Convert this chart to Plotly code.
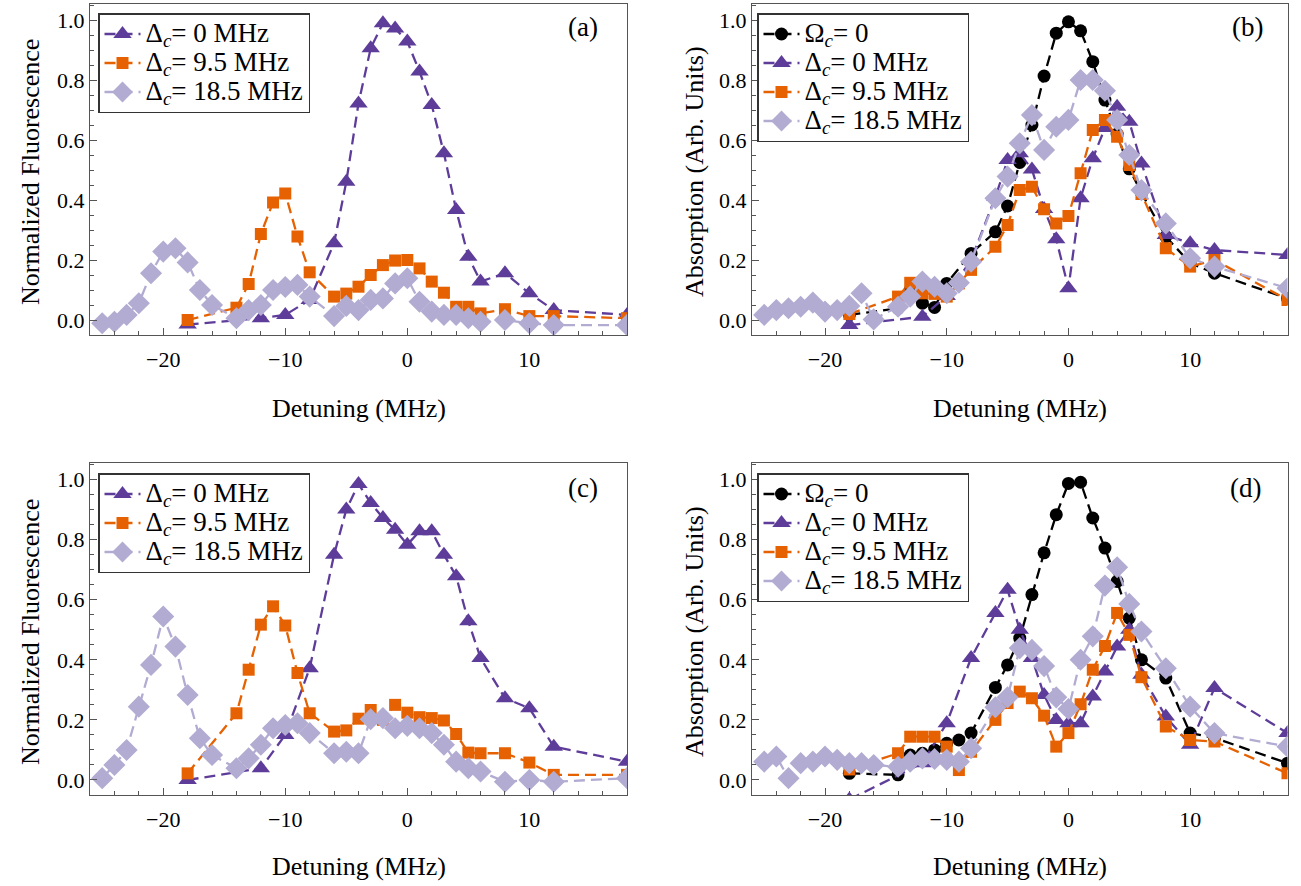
import plotly.graph_objects as go

FONT = "Liberation Serif"
PURPLE = "#5e3c99"
ORANGE = "#e66101"
LAVENDER = "#b2abd2"
BLACK = "#000000"
FRAME = "#555555"

# ---------------- (a) fluorescence ----------------
a_d0_x = [-18, -12, -10, -8, -6, -5, -4, -3, -2, -1, 0, 1, 2, 3, 4, 5, 6, 8, 10, 12, 18]
a_d0_y = [-0.015, 0.006, 0.017, 0.067, 0.256, 0.461, 0.722, 0.906, 0.989, 0.972, 0.928,
          0.828, 0.717, 0.556, 0.367, 0.211, 0.128, 0.156, 0.089, 0.033, 0.017]
a_d95_x = [-18, -14, -13, -12, -11, -10, -9, -8, -6, -5, -4, -3, -2, -1, 0, 1, 2, 3, 4, 5, 6, 8, 10, 12, 18]
a_d95_y = [0.0, 0.041, 0.12, 0.287, 0.392, 0.422, 0.278, 0.159, 0.078, 0.088, 0.111, 0.15, 0.183,
           0.198, 0.2, 0.172, 0.128, 0.091, 0.044, 0.044, 0.022, 0.036, 0.013, 0.013, 0.006]
a_d185_x = [-25, -24, -23, -22, -21, -20, -19, -18, -17, -16, -14, -13, -12, -11, -10, -9, -8,
            -6, -5, -4, -3, -2, -1, 0, 1, 2, 3, 4, 5, 6, 8, 10, 12, 18]
a_d185_y = [-0.011, -0.006, 0.017, 0.056, 0.156, 0.228, 0.239, 0.192, 0.1, 0.05, 0.006, 0.033,
            0.05, 0.1, 0.11, 0.117, 0.078, 0.013, 0.047, 0.033, 0.067, 0.072, 0.122, 0.139,
            0.061, 0.028, 0.017, 0.017, 0.006, -0.006, 0.0, -0.011, -0.017, -0.017]

# ---------------- (b) absorption ----------------
b_om_x = [-18, -14, -13, -12, -11, -10, -8, -6, -5, -4, -3, -2, -1, 0, 1, 2, 3, 4, 5, 6, 8, 10, 12, 18]
b_om_y = [0.017, 0.039, 0.1, 0.056, 0.042, 0.122, 0.222, 0.294, 0.38, 0.525, 0.65, 0.813, 0.956,
          0.994, 0.964, 0.861, 0.733, 0.62, 0.504, 0.424, 0.278, 0.19, 0.156, 0.072]
b_d0_x = [-18, -12, -10, -8, -6, -5, -4, -3, -2, -1, 0, 1, 2, 3, 4, 5, 6, 8, 10, 12, 18]
b_d0_y = [-0.017, 0.011, 0.08, 0.2, 0.41, 0.533, 0.556, 0.502, 0.37, 0.269, 0.106, 0.406, 0.539,
          0.64, 0.711, 0.661, 0.522, 0.283, 0.256, 0.233, 0.217]
b_d95_x = [-18, -14, -13, -12, -11, -10, -9, -8, -6, -5, -4, -3, -2, -1, 0, 1, 2, 3, 4, 5, 6, 8, 10, 12, 18]
b_d95_y = [0.02, 0.078, 0.124, 0.089, 0.087, 0.078, 0.122, 0.167, 0.244, 0.317, 0.433, 0.444,
           0.369, 0.322, 0.347, 0.489, 0.633, 0.667, 0.611, 0.517, 0.42, 0.239, 0.178, 0.2, 0.067]
b_d185_x = [-25, -24, -23, -22, -21, -20, -19, -18, -17, -16, -14, -13, -12, -11, -10, -9, -8,
            -6, -5, -4, -3, -2, -1, 0, 1, 2, 3, 4, 5, 6, 8, 10, 12, 18]
b_d185_y = [0.017, 0.033, 0.039, 0.044, 0.058, 0.028, 0.033, 0.047, 0.089, 0.002, 0.044, 0.078,
            0.128, 0.111, 0.089, 0.124, 0.194, 0.406, 0.478, 0.589, 0.683, 0.567, 0.644, 0.667,
            0.8, 0.8, 0.764, 0.667, 0.55, 0.433, 0.322, 0.206, 0.178, 0.106]

# ---------------- (c) fluorescence ----------------
c_d0_x = [-18, -12, -10, -8, -6, -5, -4, -3, -2, -1, 0, 1, 2, 3, 4, 5, 6, 8, 10, 12, 18]
c_d0_y = [0.0, 0.039, 0.15, 0.372, 0.75, 0.9, 0.985, 0.922, 0.872, 0.833, 0.783, 0.828, 0.828,
          0.75, 0.678, 0.528, 0.406, 0.272, 0.239, 0.111, 0.061]
c_d95_x = [-18, -14, -13, -12, -11, -10, -9, -8, -6, -5, -4, -3, -2, -1, 0, 1, 2, 3, 4, 5, 6, 8, 10, 12, 18]
c_d95_y = [0.022, 0.222, 0.367, 0.517, 0.578, 0.514, 0.356, 0.222, 0.161, 0.165, 0.204, 0.233,
           0.2, 0.25, 0.224, 0.209, 0.206, 0.198, 0.153, 0.091, 0.089, 0.089, 0.058, 0.017, 0.017]
c_d185_x = [-25, -24, -23, -22, -21, -20, -19, -18, -17, -16, -14, -13, -12, -11, -10, -9, -8,
            -6, -5, -4, -3, -2, -1, 0, 1, 2, 3, 4, 5, 6, 8, 10, 12, 18]
c_d185_y = [0.006, 0.05, 0.1, 0.244, 0.383, 0.544, 0.444, 0.283, 0.139, 0.083, 0.039, 0.072,
            0.117, 0.172, 0.183, 0.189, 0.156, 0.089, 0.094, 0.089, 0.202, 0.206, 0.172, 0.18,
            0.172, 0.156, 0.117, 0.061, 0.039, 0.028, -0.006, 0.0, -0.006, 0.006]

# ---------------- (d) absorption ----------------
d_om_x = [-18, -14, -13, -12, -11, -10, -9, -8, -6, -5, -4, -3, -2, -1, 0, 1, 2, 3, 4, 5, 6, 8, 10, 12, 18]
d_om_y = [0.022, 0.017, 0.083, 0.089, 0.1, 0.122, 0.133, 0.156, 0.308, 0.383, 0.472, 0.617, 0.756,
          0.883, 0.987, 0.991, 0.872, 0.772, 0.661, 0.539, 0.4, 0.339, 0.156, 0.14, 0.056]
d_d0_x = [-18, -12, -10, -8, -6, -5, -4, -3, -2, -1, 0, 1, 2, 3, 4, 5, 6, 8, 10, 12, 18]
d_d0_y = [-0.065, 0.056, 0.189, 0.406, 0.556, 0.633, 0.5, 0.406, 0.283, 0.2, 0.189, 0.189, 0.278,
          0.361, 0.444, 0.5, 0.35, 0.211, 0.117, 0.306, 0.156]
d_d95_x = [-18, -14, -13, -12, -11, -10, -9, -8, -6, -5, -4, -3, -2, -1, 0, 1, 2, 3, 4, 5, 6, 8, 10, 12, 18]
d_d95_y = [0.035, 0.089, 0.144, 0.144, 0.144, 0.111, 0.033, 0.094, 0.2, 0.256, 0.294, 0.272,
           0.214, 0.111, 0.156, 0.252, 0.367, 0.446, 0.556, 0.483, 0.342, 0.178, 0.133, 0.128, 0.022]
d_d185_x = [-25, -24, -23, -22, -21, -20, -19, -18, -17, -16, -14, -13, -12, -11, -10, -9, -8,
            -6, -5, -4, -3, -2, -1, 0, 1, 2, 3, 4, 5, 6, 8, 10, 12, 18]
d_d185_y = [0.061, 0.078, 0.006, 0.056, 0.061, 0.078, 0.067, 0.056, 0.056, 0.05, 0.044, 0.061,
            0.072, 0.07, 0.067, 0.061, 0.106, 0.242, 0.275, 0.439, 0.433, 0.379, 0.275, 0.236,
            0.4, 0.478, 0.647, 0.708, 0.586, 0.494, 0.372, 0.244, 0.156, 0.111]

# Legend labels are drawn larger than the legend row pitch to keep the rows tight
LEG_TEXT = '<span style="font-size:27px">{}</span>'
NAME_OM = LEG_TEXT.format("Ω<sub><i>c</i></sub>= 0")
NAME_D0 = LEG_TEXT.format("Δ<sub><i>c</i></sub>= 0 MHz")
NAME_D95 = LEG_TEXT.format("Δ<sub><i>c</i></sub>= 9.5 MHz")
NAME_D185 = LEG_TEXT.format("Δ<sub><i>c</i></sub>= 18.5 MHz")

STYLE = {
    "om": (BLACK, "circle", 13),
    "d0": (PURPLE, "triangle-up", 16),
    "d95": (ORANGE, "square", 12),
    "d185": (LAVENDER, "diamond", 17),
}

fig = go.Figure()


def add(xs, ys, name, key, axis, legend):
    color, symbol, size = STYLE[key]
    fig.add_trace(go.Scatter(
        x=xs, y=ys, name=name, mode="lines+markers",
        line=dict(color=color, width=2.3, dash="11px,6px"),
        marker=dict(color=color, symbol=symbol, size=size, line=dict(width=0)),
        xaxis="x" + axis, yaxis="y" + axis, legend=legend,
    ))


add(a_d0_x, a_d0_y, NAME_D0, "d0", "", "legend")
add(a_d95_x, a_d95_y, NAME_D95, "d95", "", "legend")
add(a_d185_x, a_d185_y, NAME_D185, "d185", "", "legend")

add(b_om_x, b_om_y, NAME_OM, "om", "2", "legend2")
add(b_d0_x, b_d0_y, NAME_D0, "d0", "2", "legend2")
add(b_d95_x, b_d95_y, NAME_D95, "d95", "2", "legend2")
add(b_d185_x, b_d185_y, NAME_D185, "d185", "2", "legend2")

add(c_d0_x, c_d0_y, NAME_D0, "d0", "3", "legend3")
add(c_d95_x, c_d95_y, NAME_D95, "d95", "3", "legend3")
add(c_d185_x, c_d185_y, NAME_D185, "d185", "3", "legend3")

add(d_om_x, d_om_y, NAME_OM, "om", "4", "legend4")
add(d_d0_x, d_d0_y, NAME_D0, "d0", "4", "legend4")
add(d_d95_x, d_d95_y, NAME_D95, "d95", "4", "legend4")
add(d_d185_x, d_d185_y, NAME_D185, "d185", "4", "legend4")

W, H = 1301, 886
XA = [90 / W, 627 / W]
XB = [752 / W, 1287.5 / W]
YT = [(H - 335) / H, (H - 3.5) / H]
YB = [(H - 795) / H, (H - 463) / H]

tickfont = dict(family=FONT, size=22, color="black")


def xax(domain, anchor):
    return dict(domain=domain, anchor=anchor, range=[-26, 18], tick0=0, dtick=10,
                ticks="inside", ticklen=7, tickwidth=1, tickcolor=FRAME,
                minor=dict(tick0=0, dtick=2, ticks="inside", ticklen=4, tickcolor=FRAME),
                showline=True, linecolor=FRAME, linewidth=1, mirror=True,
                showgrid=False, zeroline=False, tickfont=tickfont, ticklabelstandoff=5)


def yax(domain, anchor):
    return dict(domain=domain, anchor=anchor, range=[-0.05, 1.055], tick0=0, dtick=0.2,
                tickformat=".1f", ticks="inside", ticklen=7, tickwidth=1, tickcolor=FRAME,
                minor=dict(tick0=0, dtick=0.05, ticks="inside", ticklen=4, tickcolor=FRAME),
                showline=True, linecolor=FRAME, linewidth=1, mirror=True,
                showgrid=False, zeroline=False, tickfont=tickfont, ticklabelstandoff=0)


def leg(x_px, y_px):
    return dict(x=x_px / W, y=(H - y_px) / H, xanchor="left", yanchor="top",
                bgcolor="white", bordercolor="#333333", borderwidth=1.5,
                font=dict(family=FONT, size=20, color="black"),
                itemwidth=36, tracegroupgap=0, traceorder="normal")


fig.update_layout(
    width=W, height=H, margin=dict(l=0, r=0, t=0, b=0),
    paper_bgcolor="white", plot_bgcolor="white",
    font=dict(family=FONT, size=22, color="black"),
    xaxis=xax(XA, "y"), yaxis=yax(YT, "x"),
    xaxis2=xax(XB, "y2"), yaxis2=yax(YT, "x2"),
    xaxis3=xax(XA, "y3"), yaxis3=yax(YB, "x3"),
    xaxis4=xax(XB, "y4"), yaxis4=yax(YB, "x4"),
    legend=leg(98, 13), legend2=leg(757, 13),
    legend3=leg(98, 473), legend4=leg(757, 473),
    showlegend=True,
)

titlefont = dict(family=FONT, size=26, color="black")
labelfont = dict(family=FONT, size=27, color="black")
notes = [
    ("Detuning (MHz)", 358.5, 408, 0, titlefont),
    ("Detuning (MHz)", 1019.75, 408, 0, titlefont),
    ("Detuning (MHz)", 358.5, 866, 0, titlefont),
    ("Detuning (MHz)", 1019.75, 866, 0, titlefont),
    ("Normalized Fluorescence", 30, 172, -90, titlefont),
    ("Absorption (Arb. Units)", 694, 172, -90, titlefont),
    ("Normalized Fluorescence", 30, 632, -90, titlefont),
    ("Absorption (Arb. Units)", 694, 632, -90, titlefont),
    ("(a)", 583, 27, 0, labelfont),
    ("(b)", 1247, 27, 0, labelfont),
    ("(c)", 583, 488, 0, labelfont),
    ("(d)", 1245, 488, 0, labelfont),
]
for text, xp, yp, ang, fnt in notes:
    fig.add_annotation(text=text, x=xp / W, y=(H - yp) / H, xref="paper", yref="paper",
                       showarrow=False, textangle=ang, font=fnt,
                       xanchor="center", yanchor="middle")

fig.write_html("out.html")
